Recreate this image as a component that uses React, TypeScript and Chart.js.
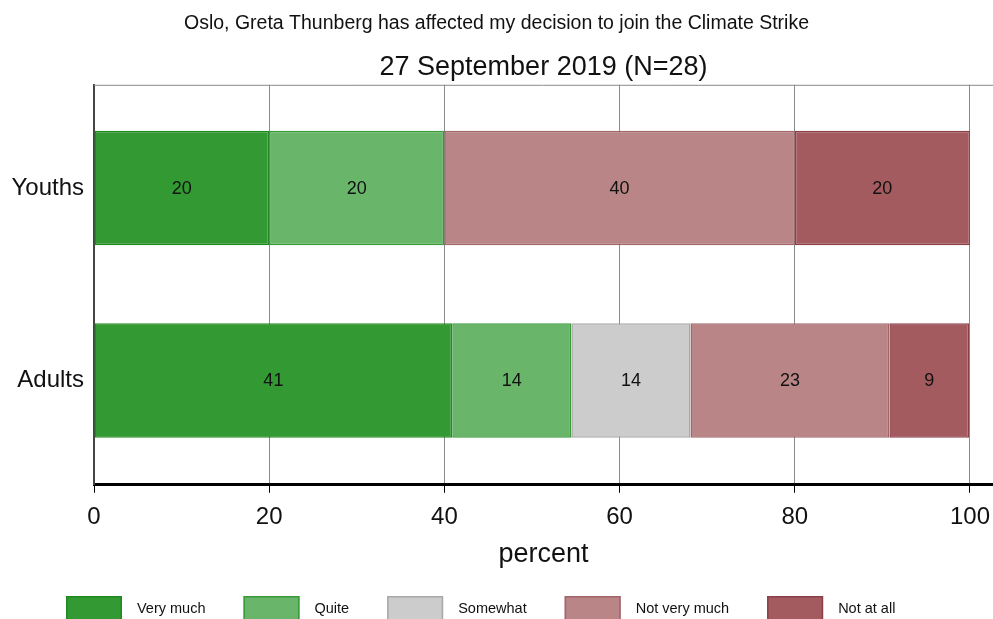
import React, { useEffect, useRef } from "react";
import { Chart, registerables } from "chart.js";

Chart.register(...registerables);

const categories = ["Youths", "Adults"];
const seriesNames = ["Very much", "Quite", "Somewhat", "Not very much", "Not at all"];
const veryMuch = [20, 40.9];
const quite = [20, 13.6];
const somewhat = [0, 13.6];
const notVeryMuch = [40, 22.7];
const notAtAll = [20, 9.1];
const xTicks = [0, 20, 40, 60, 80, 100];
const titleText = "Oslo, Greta Thunberg has affected my decision to join the Climate Strike";
const subtitleText = "27 September 2019 (N=28)";
const xTitle = "percent";

const fillColors = ["#339933", "#69b569", "#cccccc", "#b98586", "#a45b60"];
const borderColors = ["#1f8a1f", "#3a9a3a", "#a8a8a8", "#a2656a", "#8c3f48"];

const FONT = "'Liberation Sans', Arial, sans-serif";

const barLabelPlugin = {
  id: "barLabels",
  afterDatasetsDraw(chart: any) {
    const ctx = chart.ctx;
    ctx.save();
    ctx.font = `18px ${FONT}`;
    ctx.fillStyle = "#111";
    ctx.textAlign = "center";
    ctx.textBaseline = "middle";
    chart.data.datasets.forEach((ds: any, di: number) => {
      const meta = chart.getDatasetMeta(di);
      meta.data.forEach((el: any, i: number) => {
        const v = ds.data[i] && ds.data[i].x;
        if (v == null || v === 0) return;
        const props = el.getProps(["x", "y", "base"], true);
        ctx.fillText(String(Math.round(v)), (props.x + props.base) / 2, props.y + 1);
      });
    });
    ctx.restore();
  },
};

const frameAndLegendPlugin = {
  id: "frameLegend",
  afterDraw(chart: any) {
    const ctx = chart.ctx;
    const area = chart.chartArea;
    ctx.save();
    // top frame line
    ctx.strokeStyle = "#8a8a8a";
    ctx.lineWidth = 1;
    ctx.beginPath();
    ctx.moveTo(area.left, area.top + 0.5);
    ctx.lineTo(area.right, area.top + 0.5);
    ctx.stroke();

    // legend
    ctx.font = `14.5px ${FONT}`;
    ctx.textBaseline = "middle";
    ctx.textAlign = "left";
    const boxW = 56;
    const boxH = 26;
    const textGap = 15;
    const itemGap = 38;
    const top = 596;
    let x = 66;
    chart.data.datasets.forEach((ds: any) => {
      ctx.fillStyle = ds.backgroundColor;
      ctx.fillRect(x, top, boxW, boxH);
      ctx.strokeStyle = ds.borderColor;
      ctx.lineWidth = 1.5;
      ctx.strokeRect(x + 0.75, top + 0.75, boxW - 1.5, boxH - 1.5);
      ctx.fillStyle = "#111";
      const tx = x + boxW + textGap;
      ctx.fillText(ds.label, tx, top + 13);
      x = tx + ctx.measureText(ds.label).width + itemGap;
    });
    ctx.restore();
  },
};

export default function App() {
  const ref = useRef<HTMLCanvasElement>(null);

  useEffect(() => {
    if (!ref.current) return;
    const series = [veryMuch, quite, somewhat, notVeryMuch, notAtAll];
    const datasets = series.map((vals, si) => ({
      label: seriesNames[si],
      data: vals.map((v, ci) => ({ x: v === 0 ? null : v, y: ci })),
      backgroundColor: fillColors[si],
      borderColor: borderColors[si],
      borderWidth: 1.5,
      borderSkipped: false,
      categoryPercentage: 1,
      barPercentage: 0.594,
    }));

    const chart = new Chart(ref.current, {
      type: "bar",
      data: { datasets },
      options: {
        indexAxis: "y",
        responsive: false,
        animation: false,
        layout: { padding: { left: 0, right: 0, top: 0, bottom: 48 } },
        plugins: {
          legend: { display: false },
          tooltip: { enabled: false },
          title: {
            display: true,
            text: titleText,
            color: "#111",
            font: { family: FONT, size: 19.5, weight: "normal" },
            padding: { top: 12, bottom: 6 },
          },
          subtitle: {
            display: true,
            text: subtitleText,
            color: "#111",
            fullSize: false,
            font: { family: FONT, size: 27, weight: "normal" },
            padding: { top: 10, bottom: 1 },
          },
        },
        scales: {
          x: {
            type: "linear",
            stacked: true,
            min: 0,
            max: 102.63,
            afterBuildTicks: (scale: any) => {
              scale.ticks = xTicks.map((v) => ({ value: v }));
            },
            afterFit: (scale: any) => {
              scale.paddingRight = 0;
              scale.paddingLeft = 0;
            },
            grid: {
              color: "#8a8a8a",
              lineWidth: 1,
              tickColor: "#000",
              tickLength: 8,
              drawTicks: true,
            },
            border: { display: true, color: "#000", width: 3 },
            ticks: {
              color: "#111",
              font: { family: FONT, size: 24 },
              padding: 10,
              maxRotation: 0,
              callback: (v: any) => String(v),
            },
            title: {
              display: true,
              text: xTitle,
              color: "#111",
              font: { family: FONT, size: 27 },
              padding: { top: -3, bottom: 0 },
            },
          },
          y: {
            type: "linear",
            stacked: true,
            offset: false,
            reverse: true,
            min: -0.536,
            max: 1.542,
            afterBuildTicks: (scale: any) => {
              scale.ticks = categories.map((_, i) => ({ value: i }));
            },
            afterFit: (scale: any) => {
              scale.width = 94;
            },
            grid: { display: false },
            border: { display: true, color: "#444", width: 2 },
            ticks: {
              color: "#111",
              font: { family: FONT, size: 24 },
              padding: 2,
              callback: (v: any) => categories[Math.round(v)] ?? "",
            },
          },
        },
      },
      plugins: [barLabelPlugin, frameAndLegendPlugin],
    });
    return () => chart.destroy();
  }, []);

  return (
    <div style={{ position: "fixed", left: 0, top: 0, width: 993, height: 619, background: "#fff" }}>
      <canvas ref={ref} width={993} height={619} style={{ display: "block" }} />
    </div>
  );
}
